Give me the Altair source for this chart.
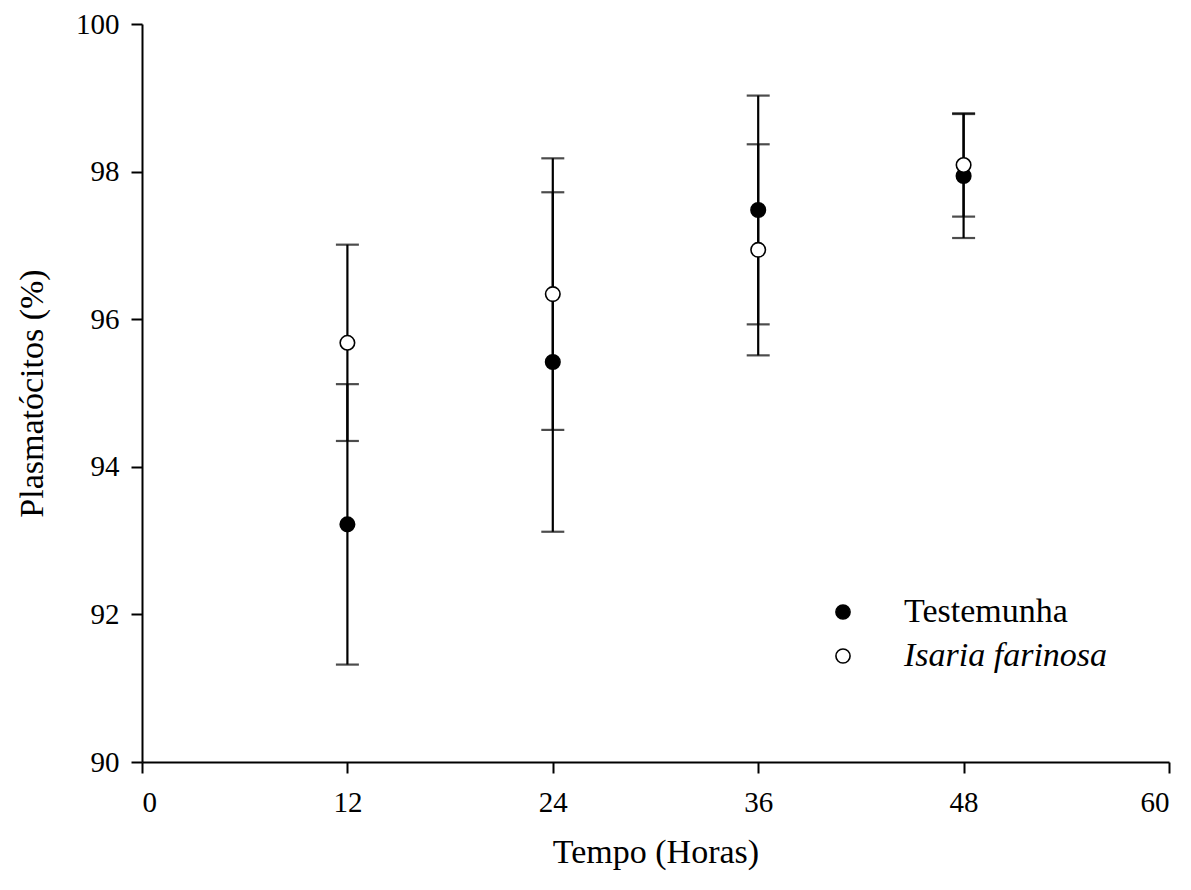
import altair as alt
import pandas as pd

hours = [12, 24, 36, 48]
series_names = ["Testemunha", "Isaria farinosa"]
testemunha_mean = [93.22, 95.42, 97.48, 97.94]
testemunha_err = [1.90, 2.30, 1.55, 0.84]
isaria_mean = [95.68, 96.34, 96.94, 98.09]
isaria_err = [1.33, 1.84, 1.43, 0.70]
x_ticks = [0, 12, 24, 36, 48, 60]
y_ticks = [90, 92, 94, 96, 98, 100]

rows = []
for name, means, errs in [
    (series_names[0], testemunha_mean, testemunha_err),
    (series_names[1], isaria_mean, isaria_err),
]:
    for h, m, e in zip(hours, means, errs):
        rows.append({"hora": h, "serie": name, "media": m, "low": m - e, "high": m + e})
df = pd.DataFrame(rows)

FONT = "Liberation Serif"

x_enc = alt.X(
    "hora:Q",
    scale=alt.Scale(domain=[0, 60], nice=False),
    axis=alt.Axis(values=x_ticks, format="d", title="Tempo (Horas)", labelPadding=15, titlePadding=18),
)
y_scale = alt.Scale(domain=[90, 100], nice=False, zero=False)

base = alt.Chart(df)

rules = base.mark_rule(color="black", strokeWidth=2.2).encode(
    x=x_enc,
    y=alt.Y("low:Q", scale=y_scale,
            axis=alt.Axis(values=y_ticks, format="d", title="Plasmatócitos (%)",
                          labelPadding=12, titlePadding=26)),
    y2="high:Q",
)
caps_low = base.mark_tick(color="black", orient="horizontal", size=23, thickness=2.2).encode(
    x="hora:Q", y=alt.Y("low:Q", scale=y_scale)
)
caps_high = base.mark_tick(color="black", orient="horizontal", size=23, thickness=2.2).encode(
    x="hora:Q", y=alt.Y("high:Q", scale=y_scale)
)
points = base.mark_point(filled=True, shape="circle", size=210, stroke="black",
                         strokeWidth=1.6, opacity=1).encode(
    x="hora:Q",
    y=alt.Y("media:Q", scale=y_scale),
    fill=alt.Fill(
        "serie:N",
        scale=alt.Scale(domain=series_names, range=["black", "white"]),
        legend=alt.Legend(
            title=None,
            orient="none",
            legendX=684,
            legendY=571,
            padding=0,
            symbolType="circle",
            symbolSize=200,
            symbolStrokeColor="black",
            symbolStrokeWidth=1.6,
            symbolOpacity=1,
            labelFont=FONT,
            labelFontSize=34,
            labelColor="black",
            labelOffset=44,
            labelLimit=0,
            rowPadding=10,
            labelFontStyle={"expr": "datum.label == 'Isaria farinosa' ? 'italic' : 'normal'"},
        ),
    ),
    order=alt.Order("serie:N", sort="descending"),
)

chart = (
    alt.layer(rules, caps_low, caps_high, points)
    .properties(
        width=1027,
        height=738,
        autosize=alt.AutoSizeParams(type="none"),
        padding={"left": 134, "top": 16, "right": 14, "bottom": 120},
        background="white",
    )
    .configure_view(stroke=None)
    .configure_axis(
        grid=False,
        domainColor="black",
        domainWidth=2,
        tickColor="black",
        tickWidth=2,
        tickSize=11,
        labelFont=FONT,
        labelFontSize=29,
        labelColor="black",
        titleFont=FONT,
        titleFontSize=34,
        titleFontWeight="normal",
        titleColor="black",
    )
)

chart.save("out.html", embed_options={"renderer": "svg", "actions": False})
